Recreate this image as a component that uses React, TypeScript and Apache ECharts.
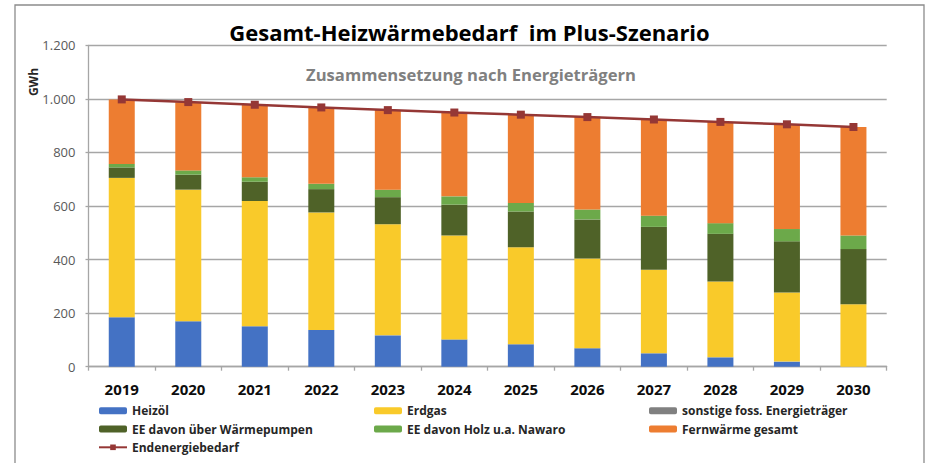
import React, { useEffect, useRef } from 'react';
import * as echarts from 'echarts';

const years = ['2019', '2020', '2021', '2022', '2023', '2024', '2025', '2026', '2027', '2028', '2029', '2030'];
const heizoel = [185, 170, 151, 137, 117, 102, 84, 69, 50, 35, 19, 0];
const erdgas = [520, 491, 468, 439, 415, 388, 362, 335, 312, 283, 258, 233];
const sonstige = [0, 0, 0, 0, 0, 0, 0, 0, 0, 0, 0, 0];
const waermepumpen = [39, 56, 72, 87, 101, 115, 133, 146, 160, 178, 191, 206];
const holz = [13, 16, 16, 20, 28, 31, 32, 37, 42, 40, 46, 51];
const fernwaerme = [241, 254, 271, 285, 297, 314, 330, 346, 359, 378, 391, 405];
const endenergie = [998, 988, 978, 968, 958, 949, 941, 932, 923, 914, 905, 895];

const FONT = '"Open Sans", "Noto Sans", sans-serif';

export default function App() {
  const ref = useRef<HTMLDivElement>(null);
  useEffect(() => {
    const chart = echarts.init(ref.current!, null, { renderer: 'svg' });
    const barSeries = (name: string, data: number[], color: string) => ({
      name,
      type: 'bar',
      stack: 'total',
      barWidth: 26,
      data,
      itemStyle: { color },
    });
    const legendBase = {
      orient: 'vertical',
      itemWidth: 28,
      itemHeight: 7,
      itemGap: 4.3,
      padding: 0,
      height: 60,
      textStyle: { fontFamily: FONT, fontSize: 12, fontWeight: 'bold', color: '#262626', lineHeight: 14 },
      selectedMode: false,
      top: 403.7,
    };
    chart.setOption({
      animation: false,
      backgroundColor: '#ffffff',
      textStyle: { fontFamily: FONT },
      grid: { left: 88.5, right: 43.3, top: 45.3, bottom: 96.3, containLabel: false },
      legend: [
        { ...legendBase, left: 98, data: ['Heizöl', 'EE davon über Wärmepumpen', 'Endenergiebedarf'] },
        { ...legendBase, left: 374, data: ['Erdgas', 'EE davon Holz u.a. Nawaro'] },
        { ...legendBase, left: 649, data: ['sonstige foss. Energieträger', 'Fernwärme gesamt'] },
      ],
      xAxis: {
        type: 'category',
        data: years,
        axisLine: { lineStyle: { color: '#a6a6a6', width: 1.3 } },
        axisTick: { show: true, length: 4, lineStyle: { color: '#a6a6a6', width: 1.3 } },
        axisLabel: { fontFamily: FONT, fontSize: 15, fontWeight: 'bold', color: '#0d0d0d', margin: 15 },
      },
      yAxis: {
        type: 'value',
        min: 0,
        max: 1200,
        interval: 200,
        axisLine: { show: true, lineStyle: { color: '#a6a6a6', width: 1.3 } },
        axisTick: { show: true, length: 3, lineStyle: { color: '#a6a6a6', width: 1.3 } },
        splitLine: { lineStyle: { color: '#a6a6a6', width: 1.3 } },
        axisLabel: {
          fontFamily: FONT,
          fontSize: 13,
          color: '#595959',
          margin: 13,
          formatter: (v: number) => (v >= 1000 ? Math.floor(v / 1000) + '.' + String(v % 1000).padStart(3, '0') : String(v)),
        },
      },
      graphic: [
        {
          type: 'rect',
          shape: { x: 15, y: 5, width: 909, height: 480 },
          style: { fill: 'none', stroke: '#8c8c8c', lineWidth: 1.3 },
          silent: true,
          z: -1,
        },
        {
          type: 'text',
          x: 469.5,
          y: 32,
          style: {
            text: 'Gesamt-Heizwärmebedarf  im Plus-Szenario',
            fontFamily: FONT,
            fontSize: 22,
            fontWeight: 'bold',
            fill: '#000000',
            textAlign: 'center',
            textVerticalAlign: 'middle',
          },
        },
        {
          type: 'text',
          x: 471,
          y: 74,
          style: {
            text: 'Zusammensetzung nach Energieträgern',
            fontFamily: FONT,
            fontSize: 16.6,
            fontWeight: 'bold',
            fill: '#808080',
            textAlign: 'center',
            textVerticalAlign: 'middle',
          },
        },
        {
          type: 'text',
          x: 33,
          y: 82,
          rotation: Math.PI / 2,
          style: {
            text: 'GWh',
            fontFamily: FONT,
            fontSize: 12,
            fontWeight: 'bold',
            fill: '#262626',
            textAlign: 'center',
            textVerticalAlign: 'middle',
          },
        },
      ],
      series: [
        barSeries('Heizöl', heizoel, '#4472C4'),
        barSeries('Erdgas', erdgas, '#F9CA2A'),
        barSeries('sonstige foss. Energieträger', sonstige, '#808080'),
        barSeries('EE davon über Wärmepumpen', waermepumpen, '#4F6228'),
        barSeries('EE davon Holz u.a. Nawaro', holz, '#6CA94A'),
        barSeries('Fernwärme gesamt', fernwaerme, '#ED7D31'),
        {
          name: 'Endenergiebedarf',
          type: 'line',
          data: endenergie,
          symbol: 'rect',
          symbolSize: 8,
          z: 5,
          lineStyle: { color: '#953735', width: 2.5 },
          itemStyle: { color: '#953735' },
        },
      ],
    });
    return () => chart.dispose();
  }, []);
  return <div ref={ref} style={{ position: 'fixed', left: 0, top: 0, width: 930, height: 463, background: '#fff' }} />;
}
